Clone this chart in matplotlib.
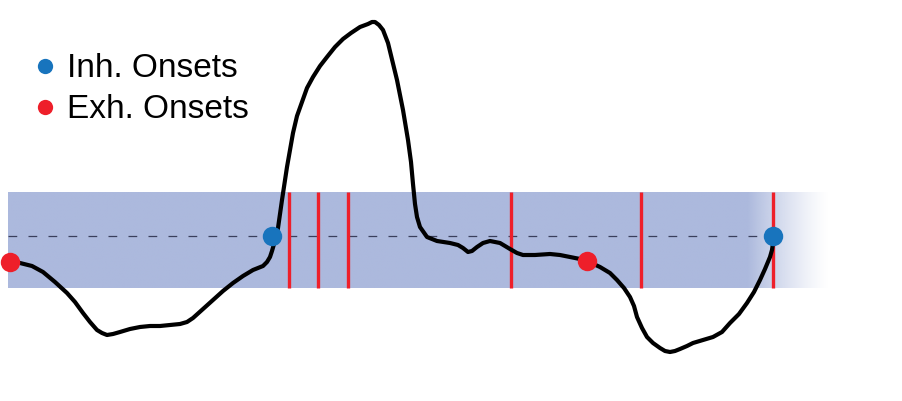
import numpy as np
import matplotlib
matplotlib.use("Agg")
import matplotlib.pyplot as plt
from matplotlib.lines import Line2D

# ---- data (time in samples, amplitude relative to baseline) ----
sig_t = [10, 20, 32, 43, 55, 67, 75, 83, 90, 97, 102, 107, 113, 120, 130, 140, 150, 160,
         170, 180, 187, 193, 203, 213, 223, 233, 243, 253, 258, 263, 267, 270, 272, 274,
         276, 278, 282, 287, 293, 297, 302, 307, 313, 320, 327, 335, 343, 351, 360, 368,
         372, 375, 379, 383, 388, 397, 403, 408, 411, 413, 415, 417, 420, 427, 437, 450,
         458, 463, 468, 472, 477, 483, 490, 500, 505, 510, 517, 523, 535, 550, 560, 570,
         580, 587, 600, 610, 617, 624, 630, 634, 637, 642, 647, 653, 660, 665, 670, 675,
         680, 687, 693, 703, 713, 722, 730, 739, 747, 754, 760, 765, 770, 772, 774]
sig_y = [-26, -27, -30, -36, -46, -57, -66, -77, -86, -94, -97, -99, -98, -96, -93, -91, -90, -90,
         -89, -88, -86, -82, -73, -64, -55, -47, -40, -34, -32, -30, -26, -21, -15, -8,
         -1, 8, 36, 69, 103, 120, 134, 148, 159, 170, 179, 189, 197, 203, 209, 212,
         214, 214, 211, 206, 193, 156, 126, 96, 74, 52, 32, 19, 9, -1, -5, -7,
         -9, -12, -16, -15, -11, -7, -5, -7, -10, -13, -17, -19, -19, -18, -19, -21,
         -23, -25, -31, -37, -44, -52, -61, -70, -81, -92, -101, -107, -112, -115, -116, -115,
         -113, -110, -107, -104, -101, -96, -87, -78, -67, -56, -44, -33, -21, -14, 0]

inh_onsets_t = [272, 773]
inh_onsets_y = [0, 0]
exh_onsets_t = [10, 587]
exh_onsets_y = [-26, -25]
markers_t = [289, 318, 348, 511, 641, 773]

legend_labels = ["Inh. Onsets", "Exh. Onsets"]

# ---- styling ----
BLUE = "#1874BD"
RED = "#EE1F2A"
BAND = np.array([172, 185, 221]) / 255.0

fig = plt.figure(figsize=(9.03, 4.01), dpi=100)
ax = fig.add_axes([0, 0, 1, 1])
ax.set_xlim(0, 903)
ax.set_ylim(-165, 236)
ax.axis("off")

# shaded band with fade on the right
band_lo, band_hi = -52, 44
x0, x1 = 8, 830
fade_start = 748
n = 800
xs = np.linspace(x0, x1, n)
alpha = np.clip((x1 - xs) / (x1 - fade_start), 0, 1)
alpha = alpha ** 1.3
img = np.zeros((1, n, 4))
img[0, :, :3] = BAND
img[0, :, 3] = alpha
ax.imshow(img, extent=[x0, x1, band_lo, band_hi], aspect="auto",
          interpolation="bilinear", zorder=1)

# baseline dashed
ax.plot([8, 765], [0, 0], color="#3a3f5c", lw=0.9, dashes=(7, 9), zorder=2)

# event markers
for t in markers_t:
    ax.plot([t, t], [band_lo, band_hi], color=RED, lw=2.4, zorder=3, solid_capstyle="butt")

# signal
ax.plot(sig_t, sig_y, color="black", lw=3.0, zorder=4,
        solid_joinstyle="round", solid_capstyle="round")

# onsets
ax.plot(inh_onsets_t, inh_onsets_y, "o", color=BLUE, ms=14, mec="none", zorder=5)
ax.plot(exh_onsets_t, exh_onsets_y, "o", color=RED, ms=14, mec="none", zorder=5)

handles = [Line2D([], [], marker="o", ls="none", color=BLUE, ms=11, mec="none"),
           Line2D([], [], marker="o", ls="none", color=RED, ms=11, mec="none")]
leg = ax.legend(handles, legend_labels, loc="upper left",
                bbox_to_anchor=(0.017, 0.90), frameon=False,
                prop={"family": "Liberation Sans", "size": 24},
                handletextpad=0.15, labelspacing=0.3, handlelength=1.0,
                borderaxespad=0)

fig.savefig("out.png", dpi=100)
